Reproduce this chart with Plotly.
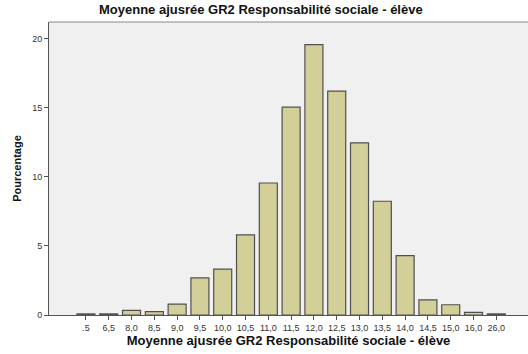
import plotly.graph_objects as go

categories = [".5", "6,5", "8,0", "8,5", "9,0", "9,5", "10,0", "10,5", "11,0", "11,5",
              "12,0", "12,5", "13,0", "13,5", "14,0", "14,5", "15,0", "16,0", "26,0"]
percent = [0.08, 0.08, 0.33, 0.24, 0.79, 2.69, 3.32, 5.8, 9.55, 15.04,
           19.57, 16.2, 12.46, 8.23, 4.3, 1.1, 0.74, 0.19, 0.08]
y_ticks = [0, 5, 10, 15, 20]

font = "Liberation Sans, Arial, sans-serif"
positions = list(range(len(categories)))
title_text = "<b>Moyenne ajusrée GR2 Responsabilité sociale - élève</b>"

fig = go.Figure()
fig.add_trace(go.Bar(
    x=positions, y=percent, width=0.79,
    marker=dict(color="#d3cf98", line=dict(color="#505050", width=1.2)),
    hoverinfo="y",
))

fig.update_layout(
    width=528, height=354,
    margin=dict(l=49, r=0, t=22, b=39),
    paper_bgcolor="white",
    plot_bgcolor="#f0f0f0",
    showlegend=False,
    title=dict(
        text=title_text,
        x=0.494, xref="container", xanchor="center",
        y=1, yref="container", yanchor="top", pad=dict(t=5),
        font=dict(family=font, size=13, color="#111"),
    ),
    xaxis=dict(
        tickmode="array", tickvals=positions, ticktext=categories,
        range=[-1.62, 19.39], showgrid=False, zeroline=False, automargin=False,
        showline=True, linecolor="#555", linewidth=1,
        ticks="outside", ticklen=4, tickcolor="#555",
        tickfont=dict(family=font, size=9, color="#333"),
        title=dict(text=title_text,
                   font=dict(family=font, size=13, color="#111"), standoff=4),
    ),
    yaxis=dict(
        tickmode="array", tickvals=y_ticks, range=[0, 21.2],
        showgrid=False, zeroline=False, automargin=False,
        showline=True, linecolor="#555", linewidth=1,
        ticks="outside", ticklen=4, tickcolor="#555",
        tickfont=dict(family=font, size=9, color="#333"),
        title=dict(text="<b>Pourcentage</b>",
                   font=dict(family=font, size=11, color="#111"), standoff=8),
    ),
    shapes=[dict(type="line", xref="paper", yref="paper", x0=0, x1=1, y0=1, y1=1,
                 line=dict(color="#888", width=1))],
)

fig.write_html("out.html", config={"displayModeBar": False},
               post_script="document.body.style.margin='0';")
